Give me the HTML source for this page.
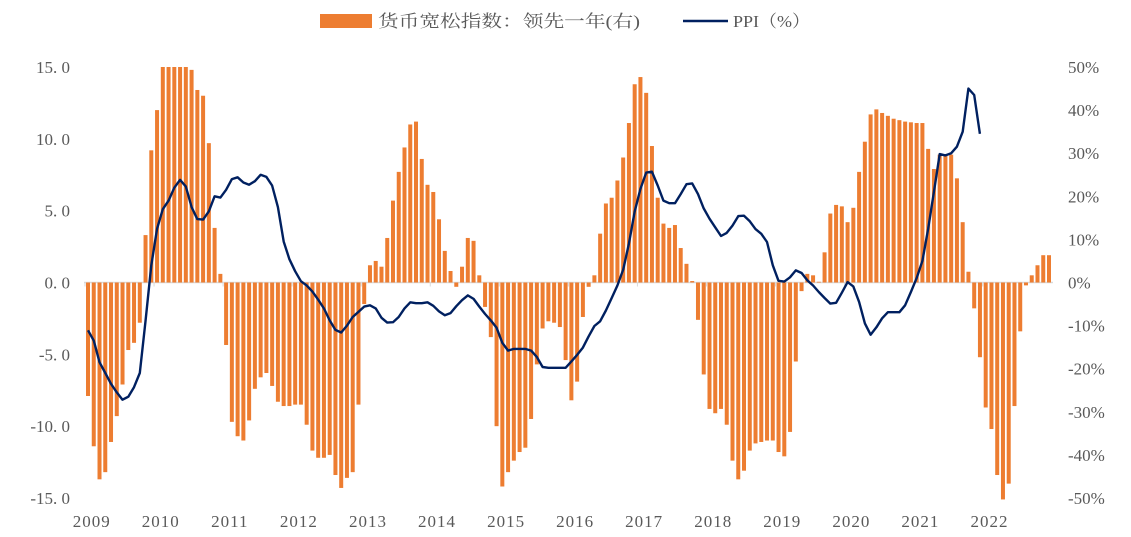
<!DOCTYPE html>
<html><head><meta charset="utf-8"><style>
html,body{margin:0;padding:0;background:#fff;}
svg{display:block;font-family:"Liberation Serif","Noto Serif CJK SC",serif;}
</style></head><body>
<svg id="chart" width="1131" height="537" viewBox="0 0 1131 537" xmlns="http://www.w3.org/2000/svg">
<g>
<rect x="320" y="14" width="52" height="14" fill="#ED7D31"/>
<text x="378" y="27" font-size="17" fill="#595959" textLength="262" lengthAdjust="spacingAndGlyphs" font-family="'Liberation Serif','Noto Serif CJK SC',serif">货币宽松指数：领先一年(右)</text>
<line x1="683" y1="21" x2="728" y2="21" stroke="#002060" stroke-width="2.5"/>
<text x="733" y="27" font-size="17" fill="#595959" textLength="77" lengthAdjust="spacingAndGlyphs">PPI（%）</text>
</g>
<g id="axes"></g>
<g id="bars"></g>
<g id="line"></g>
</svg>
<script>
const years = ["2009","2010","2011","2012","2013","2014","2015","2016","2017","2018","2019","2020","2021","2022"];
const leftTicks = [15,10,5,0,-5,-10,-15];
const leftTickLabels = ["15. 0","10. 0","5. 0","0. 0","-5. 0","-10. 0","-15. 0"];
const rightTicks = [50,40,30,20,10,0,-10,-20,-30,-40,-50];
const easingIndex = [
-7.9,-11.4,-13.7,-13.2,-11.1,-9.3,-7.1,-4.7,-4.2,-2.8,3.3,9.2,
12.0,15,15,15,15,15,14.8,13.4,13.0,9.7,3.8,0.6,
-4.35,-9.7,-10.7,-11.0,-9.6,-7.4,-6.6,-6.3,-7.2,-8.3,-8.6,-8.6,
-8.5,-8.5,-9.9,-11.7,-12.2,-12.2,-12.0,-13.4,-14.3,-13.6,-13.2,-8.5,
-1.5,
1.2,1.5,1.1,3.1,5.7,7.7,9.4,11.0,11.2,8.6,6.8,6.3,
4.4,2.2,0.8,-0.3,1.1,3.1,2.9,0.5,-1.7,-3.8,-10.0,-14.2,
-13.2,-12.4,-11.8,-11.5,-9.5,-5.7,-3.2,-2.7,-2.8,-3.1,-5.4,-8.2,
-6.9,-2.4,-0.3,0.5,3.4,5.5,5.9,7.1,8.7,11.1,13.8,14.3,
13.2,9.5,5.9,4.1,3.8,4.0,2.4,1.3,0.1,-2.6,-6.4,-8.8,
-9.1,-8.8,-9.9,-12.4,-13.7,-13.1,-11.7,-11.2,-11.1,-11.0,-11.0,-11.8,
-12.1,-10.4,-5.5,-0.6,0.6,0.5,0.05,2.1,4.8,5.4,5.3,4.2,
5.2,7.7,9.8,11.7,12.05,11.8,11.6,11.4,11.3,11.2,11.15,11.1,
11.1,9.3,7.9,8.9,8.9,8.9,7.25,4.2,0.75,-1.8,-5.2,-8.7,
-10.2,-13.4,-15.1,-14.0,-8.6,-3.4,-0.2,0.5,1.2,1.9,1.9];
const ppi = [
-11.1,-13.5,-18.5,-21,-23.5,-25.5,-27.2,-26.5,-24.3,-21,-9,4,
12.5,17,19,22,23.8,22.3,17.5,14.7,14.6,16.5,20,19.7,
21.5,24,24.4,23.2,22.7,23.5,25,24.5,22.5,17.5,9.5,5.4,
2.6,0.3,-0.7,-2.1,-4,-6,-8.8,-11,-11.6,-10,-8,-6.8,
-5.6,-5.3,-6,-8.2,-9.3,-9.2,-8,-6,-4.6,-4.8,-4.8,-4.6,
-5.4,-6.7,-7.6,-7.1,-5.5,-4.1,-3,-3.8,-5.6,-7.3,-8.8,-10.5,
-14,-15.8,-15.4,-15.4,-15.4,-15.8,-17.3,-19.6,-19.8,-19.8,-19.8,-19.8,
-18.3,-16.8,-15.1,-12.5,-10.1,-9,-6.5,-3.6,-0.7,3,9,16.5,
21.7,25.5,25.7,22.5,19,18.4,18.4,20.5,22.8,23,20.5,17.2,
14.8,12.8,10.8,11.5,13.2,15.4,15.5,14.2,12.4,11.3,9.4,4,
0.4,0.2,1.2,2.8,2.2,0.5,-0.7,-2.2,-3.6,-4.9,-4.7,-2.4,
0.1,-0.9,-4.5,-9.5,-12.1,-10.4,-8.3,-6.9,-6.9,-6.9,-5.3,-2.2,
1,5,12.5,21,29.8,29.5,30,31.5,35,45,43.5,34.5];

const NS="http://www.w3.org/2000/svg";
const X0=88, DX=(1049-88)/167;
const xAt=i=>X0+i*DX;
const yL=v=>282.5-v*(431/30);
const yR=v=>282.5-v*(431/100);
function mk(tag,attrs,parent){const e=document.createElementNS(NS,tag);for(const k in attrs)e.setAttribute(k,attrs[k]);parent.appendChild(e);return e;}
const axes=document.getElementById('axes');
// zero line
const zl=mk('line',{x1:84,y1:yL(0),x2:1053,y2:yL(0),stroke:'#D9D9D9','stroke-width':1.5},axes);


leftTicks.forEach((t,k)=>{
  const e=mk('text',{x:70,y:yL(t)+6,'text-anchor':'end','font-size':17,fill:'#595959'},axes);
  e.textContent=leftTickLabels[k];
  
  
});
rightTicks.forEach(t=>{
  const e=mk('text',{x:1068,y:yL(0)-t*4.31+6,'font-size':17,fill:'#595959'},axes);
  e.textContent=t+'%';
  
  
});
years.forEach((yr,k)=>{
  const xc=xAt(k*12+1)-2;
  const e=mk('text',{x:xc,y:527,'text-anchor':'middle','font-size':17,fill:'#595959','letter-spacing':'1'},axes);
  e.textContent=yr;
  
  
  const tk=mk('line',{x1:xAt(k*12)-3,y1:yL(0),x2:xAt(k*12)-3,y2:yL(0)+4,stroke:'#D9D9D9','stroke-width':1},axes);
  
  
});
const bars=document.getElementById('bars');
easingIndex.forEach((v,i)=>{
  const y0=yL(0), y1=yL(Math.max(-15.2,Math.min(15,v)));
  const r=mk('rect',{x:xAt(i)-2,y:Math.min(y0,y1),width:4,height:Math.max(0.5,Math.abs(y1-y0)),fill:'#ED7D31'},bars);
  
  
});
const lg=document.getElementById('line');
const pts=ppi.map((v,i)=>xAt(i).toFixed(1)+','+yR(v).toFixed(1)).join(' ');
const pl=mk('polyline',{points:pts,fill:'none',stroke:'#002060','stroke-width':2.4,'stroke-linejoin':'round'},lg);


</script>
</body></html>
